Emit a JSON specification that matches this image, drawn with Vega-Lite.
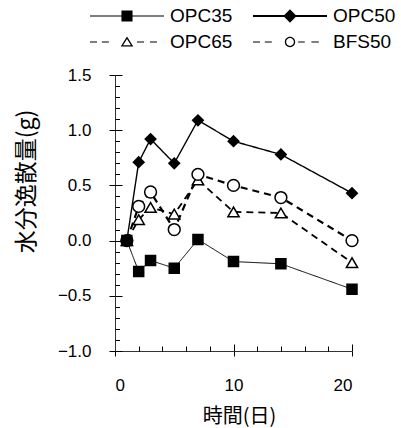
{
  "$schema": "https://vega.github.io/schema/vega-lite/v6.json",
  "autosize": {"type": "none"},
  "padding": {"left": 115, "top": 75, "right": 49, "bottom": 77},
  "width": 237,
  "height": 276,
  "config": {
    "view": {"stroke": null},
    "font": "Liberation Sans",
    "axis": {"grid": false, "tickColor": "black", "domainColor": "#333", "labelColor": "black", "titleColor": "black", "labelFont": "Liberation Sans", "titleFont": "Noto Sans CJK JP", "titleFontWeight": "normal"}
  },
  "data": {
    "values": [
      {"day": 1, "value": 0, "series": "OPC35"},
      {"day": 2, "value": -0.28, "series": "OPC35"},
      {"day": 3, "value": -0.18, "series": "OPC35"},
      {"day": 5, "value": -0.25, "series": "OPC35"},
      {"day": 7, "value": 0.01, "series": "OPC35"},
      {"day": 10, "value": -0.19, "series": "OPC35"},
      {"day": 14, "value": -0.21, "series": "OPC35"},
      {"day": 20, "value": -0.44, "series": "OPC35"},
      {"day": 1, "value": 0, "series": "OPC50"},
      {"day": 2, "value": 0.71, "series": "OPC50"},
      {"day": 3, "value": 0.92, "series": "OPC50"},
      {"day": 5, "value": 0.7, "series": "OPC50"},
      {"day": 7, "value": 1.09, "series": "OPC50"},
      {"day": 10, "value": 0.9, "series": "OPC50"},
      {"day": 14, "value": 0.78, "series": "OPC50"},
      {"day": 20, "value": 0.43, "series": "OPC50"},
      {"day": 1, "value": 0, "series": "OPC65"},
      {"day": 2, "value": 0.19, "series": "OPC65"},
      {"day": 3, "value": 0.3, "series": "OPC65"},
      {"day": 5, "value": 0.24, "series": "OPC65"},
      {"day": 7, "value": 0.55, "series": "OPC65"},
      {"day": 10, "value": 0.26, "series": "OPC65"},
      {"day": 14, "value": 0.25, "series": "OPC65"},
      {"day": 20, "value": -0.2, "series": "OPC65"},
      {"day": 1, "value": 0, "series": "BFS50"},
      {"day": 2, "value": 0.31, "series": "BFS50"},
      {"day": 3, "value": 0.44, "series": "BFS50"},
      {"day": 5, "value": 0.1, "series": "BFS50"},
      {"day": 7, "value": 0.6, "series": "BFS50"},
      {"day": 10, "value": 0.5, "series": "BFS50"},
      {"day": 14, "value": 0.39, "series": "BFS50"},
      {"day": 20, "value": 0.0, "series": "BFS50"}
    ]
  },
  "layer": [
    {
      "mark": {"type": "line", "color": "black"},
      "encoding": {
        "x": {"field": "day", "type": "quantitative", "scale": {"domain": [0, 20], "nice": false, "zero": false},
          "axis": {"orient": "bottom", "values": [0, 10, 20], "tickSize": 5, "labelFontSize": 17, "labelPadding": 21, "title": "時間(日)", "titleFontSize": 20, "titleX": 124, "titleY": 65, "titleAlign": "center", "titleBaseline": "middle"}},
        "y": {"field": "value", "type": "quantitative", "scale": {"domain": [-1, 1.5], "nice": false, "zero": false},
          "axis": {"orient": "left", "values": [-1, -0.5, 0, 0.5, 1, 1.5], "format": ".1f", "tickSize": 6, "labelFontSize": 17, "labelPadding": 18, "title": "水分逸散量(g)", "titleFontSize": 23, "titleX": -89, "titleY": 106, "titleAlign": "center", "titleBaseline": "middle", "titleAngle": -90}},
        "strokeDash": {"field": "series", "type": "nominal", "scale": {"domain": ["OPC35", "OPC50", "OPC65", "BFS50"], "range": [[1, 0], [1, 0], [7, 5], [7, 5]]}, "legend": null},
        "strokeWidth": {"field": "series", "type": "nominal", "scale": {"domain": ["OPC35", "OPC50", "OPC65", "BFS50"], "range": [1, 2.2, 0.8, 0.8]}, "legend": null}
      }
    },
    {
      "transform": [{"filter": "datum.series !== 'OPC35'"}],
      "mark": {"type": "point", "filled": false, "stroke": "black", "strokeWidth": 1.5, "opacity": 1},
      "encoding": {
        "x": {"field": "day", "type": "quantitative",
          "axis": {"orient": "bottom", "values": [2, 4, 6, 8, 12, 14, 16, 18], "tickSize": -5, "labels": false, "domain": false, "title": null}},
        "y": {"field": "value", "type": "quantitative",
          "axis": {"orient": "left", "values": [-0.9, -0.8, -0.7, -0.6, -0.4, -0.3, -0.2, -0.1, 0.1, 0.2, 0.3, 0.4, 0.6, 0.7, 0.8, 0.9, 1.1, 1.2, 1.3, 1.4], "tickSize": -4.5, "labels": false, "domain": false, "title": null}},
        "shape": {"field": "series", "type": "nominal", "scale": {"domain": ["OPC35", "OPC50", "OPC65", "BFS50"], "range": ["square", "diamond", "triangle-up", "circle"]}, "legend": null},
        "fill": {"field": "series", "type": "nominal", "scale": {"domain": ["OPC35", "OPC50", "OPC65", "BFS50"], "range": ["black", "black", "white", "white"]}, "legend": null},
        "size": {"field": "series", "type": "nominal", "scale": {"domain": ["OPC35", "OPC50", "OPC65", "BFS50"], "range": [100, 140, 110, 65]}, "legend": null}
      }
    },
    {
      "transform": [{"filter": "datum.series === 'OPC35'"}],
      "mark": {"type": "point", "filled": false, "stroke": "black", "strokeWidth": 1.5, "opacity": 1},
      "encoding": {
        "x": {"field": "day", "type": "quantitative", "axis": null},
        "y": {"field": "value", "type": "quantitative", "axis": null},
        "shape": {"field": "series", "type": "nominal", "scale": {"domain": ["OPC35", "OPC50", "OPC65", "BFS50"], "range": ["square", "diamond", "triangle-up", "circle"]}, "legend": null},
        "fill": {"field": "series", "type": "nominal", "legend": null},
        "size": {"field": "series", "type": "nominal", "legend": null}
      }
    },
    {
      "transform": [{"filter": "false"}],
      "mark": {"type": "point", "filled": false, "fill": "black", "stroke": "black", "strokeWidth": 1.2, "opacity": 1},
      "encoding": {
        "x": {"field": "day", "type": "quantitative",
          "axis": {"orient": "bottom", "values": [0, 10, 20], "tickSize": -7, "labels": false, "domain": false, "title": null}},
        "y": {"field": "value", "type": "quantitative",
          "axis": {"orient": "left", "values": [-1, -0.5, 0, 0.5, 1, 1.5], "tickSize": -7, "labels": false, "domain": false, "title": null}},
        "shape": {"field": "series", "type": "nominal",
          "scale": {"domain": ["OPC35", "OPC50", "OPC65", "BFS50"],
            "range": [
              "M-1,-0.0135H1V0.0135H-1ZM-0.15,-0.15H0.15V0.15H-0.15Z",
              "M-1,-0.027H1V0.027H-1ZM-0.18,0L0,-0.18L0.18,0L0,0.18Z",
              "M-1,-0.0135H-0.81V0.0135H-1ZM-0.68,-0.0135H-0.49V0.0135H-0.68ZM0.27,-0.0135H0.46V0.0135H0.27ZM0.62,-0.0135H0.81V0.0135H0.62ZM0,-0.15L0.17,0.12L-0.17,0.12ZM0,-0.084L-0.107,0.085L0.107,0.085Z",
              "M-1,-0.0135H-0.81V0.0135H-1ZM-0.68,-0.0135H-0.49V0.0135H-0.68ZM0.22,-0.0135H0.4V0.0135H0.22ZM0.58,-0.0135H0.78V0.0135H0.58ZM0.14,0A0.14,0.14,0,1,1,-0.14,0A0.14,0.14,0,1,1,0.14,0ZM0.105,0A0.105,0.105,0,1,0,-0.105,0A0.105,0.105,0,1,0,0.105,0Z"
            ]},
          "legend": {
            "title": null, "orient": "none", "legendX": -25, "legendY": -72, "columns": 2, "direction": "horizontal",
            "symbolSize": 5476, "symbolStrokeWidth": 0, "symbolStrokeColor": "black", "symbolFillColor": "black", "symbolOpacity": 1,
            "clipHeight": 26, "rowPadding": 0, "columnPadding": 20, "padding": 0,
            "labelFont": "Liberation Sans", "labelFontSize": 19, "labelColor": "black", "labelOffset": 6, "labelLimit": 200
          }
        }
      }
    }
  ],
  "resolve": {
    "scale": {"shape": "independent"},
    "axis": {"x": "independent", "y": "independent"}
  }
}
